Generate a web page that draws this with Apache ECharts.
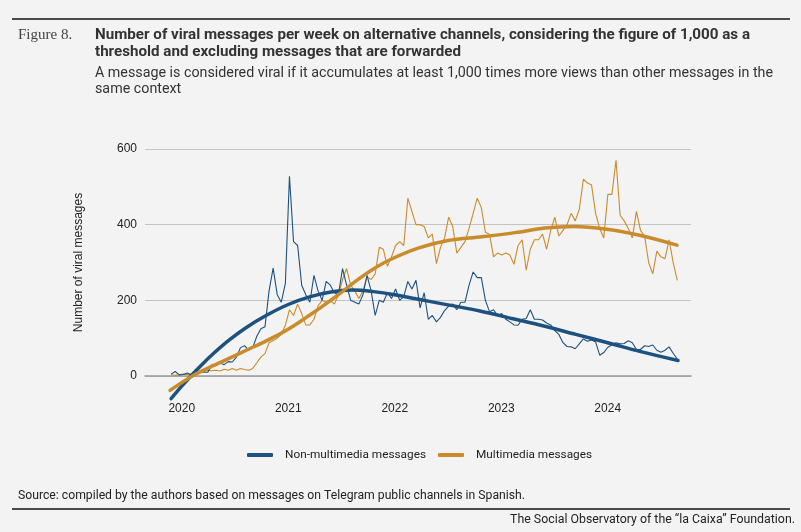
<!DOCTYPE html>
<html>
<head>
<meta charset="utf-8">
<script src="https://cdn.jsdelivr.net/npm/echarts@6/dist/echarts.min.js"></script>
<style>
html,body{margin:0;padding:0;background:#f3f3f3;}
#chart{width:801px;height:532px;}
</style>
</head>
<body>
<div id="chart"></div>
<script>
// fortnightly samples, x in fractional years
var weekStart = 2019.9;
var weekStep = 14 / 365.25;

var nonMultimedia = [
  5, 12, 3, 4, 8, 2, 5, 12, 10, 10,
  30, 28, 35, 30, 38, 37, 50, 75, 80, 68,
  75, 105, 125, 130, 225, 285, 215, 195, 245, 528,
  355, 345, 240, 215, 195, 266, 225, 200, 250, 240,
  220, 215, 284, 240, 200, 195, 190, 215, 266, 225,
  160, 200, 195, 220, 205, 230, 200, 210, 250, 230,
  253, 180, 220, 150, 160, 143, 155, 173, 185, 190,
  175, 195, 195, 240, 275, 260, 260, 200, 170, 175,
  160, 165, 150, 143, 135, 134, 150, 152, 175, 150,
  150, 148, 140, 135, 120, 110, 88, 78, 77, 72,
  85, 98, 92, 95, 90, 55, 62, 76, 82, 88,
  85, 86, 93, 88, 70, 70, 80, 78, 82, 68,
  63, 68, 77, 60, 45
];
var multimedia = [
  3, 2, 3, 5, 4, 6, 5, 8, 12, 15,
  14, 15, 13, 18, 15, 20, 15, 20, 17, 15,
  20, 35, 50, 59, 88, 94, 100, 110, 135, 175,
  160, 190, 165, 135, 135, 150, 185, 200, 195, 200,
  190, 215, 255, 284, 240, 225, 205, 225, 262, 255,
  270, 340, 335, 290, 315, 345, 355, 345, 470, 435,
  400, 400, 395, 365, 375, 297, 340, 365, 420, 395,
  325, 340, 355, 390, 430, 470, 445, 380, 375, 315,
  325, 320, 325, 320, 295, 345, 360, 280, 335, 360,
  360, 375, 335, 385, 420, 370, 385, 400, 430, 410,
  440, 520, 510, 505, 430, 390, 365, 480, 480, 570,
  425, 410, 390, 365, 435, 385, 370, 300, 270, 330,
  315, 310, 360, 300, 253
];

var trendNonYears = [2019.9, 2020.0, 2020.1, 2020.2, 2020.3, 2020.45, 2020.6, 2020.8, 2021.0, 2021.2, 2021.4, 2021.6, 2021.8, 2022.0, 2022.2, 2022.5, 2022.8, 2023.1, 2023.4, 2023.7, 2024.0, 2024.3, 2024.66];
var trendNonValues = [-60, -27, 4, 33, 60, 96, 127, 161, 189, 209, 222, 227, 223, 215, 204, 188, 172, 152, 132, 110, 88, 65, 41];
var trendMultiYears = [2019.89, 2020.1, 2020.3, 2020.47, 2020.62, 2020.78, 2020.94, 2021.06, 2021.17, 2021.33, 2021.49, 2021.64, 2021.8, 2021.96, 2022.22, 2022.5, 2022.82, 2023.13, 2023.41, 2023.68, 2023.99, 2024.3, 2024.65];
var trendMultiValues = [-38, 0, 28, 50, 70, 91, 114, 134, 155, 186, 219, 252, 283, 308, 338, 358, 368, 379, 391, 395, 388, 372, 346];

var yearTicks = [2020, 2021, 2022, 2023, 2024];

var BLUE = '#1c5180';
var ORANGE = '#c98b2c';

function weekly(vals) {
  return vals.map(function (v, i) { return [weekStart + i * weekStep, v]; });
}
function pairs(xs, ys) {
  return xs.map(function (x, i) { return [x, ys[i]]; });
}

// squeeze text horizontally to the width it has in the original
var mctx = document.createElement('canvas').getContext('2d');
function squeeze(text, font, w) {
  mctx.font = font;
  return w / mctx.measureText(text).width;
}

var titleFont = 'bold 14px Roboto';
var subFont = '14px Roboto';
var smallFont = '12px Roboto';
var t1 = 'Number of viral messages per week on alternative channels, considering the figure of 1,000 as a';
var t2 = 'threshold and excluding messages that are forwarded';
var s1 = 'A message is considered viral if it accumulates at least 1,000 times more views than other messages in the';
var s2 = 'same context';
var src = 'Source: compiled by the authors based on messages on Telegram public channels in Spanish.';
var foot = 'The Social Observatory of the \u201cla Caixa\u201d Foundation.';
var kT = squeeze(t1, titleFont, 655);
var kS = squeeze(s1, subFont, 678);
var kSrc = squeeze(src, smallFont, 507);
var kFoot = squeeze(foot, smallFont, 285);

var chart = echarts.init(document.getElementById('chart'));
chart.setOption({
  backgroundColor: '#f3f3f3',
  animation: false,
  grid: { left: 145, right: 110, top: 149, bottom: 156 },
  graphic: [
    { type: 'line', shape: { x1: 12, y1: 19, x2: 790, y2: 19 }, style: { stroke: '#4a4a4a', lineWidth: 2 } },
    { type: 'text', x: 18, y: 35, style: { text: 'Figure 8.', font: '15px "Liberation Serif"', fill: '#444', verticalAlign: 'middle' } },
    { type: 'text', x: 95, y: 35, scaleX: kT, style: { text: t1, font: titleFont, fill: '#333', verticalAlign: 'middle' } },
    { type: 'text', x: 95, y: 52, scaleX: kT, style: { text: t2, font: titleFont, fill: '#333', verticalAlign: 'middle' } },
    { type: 'text', x: 95, y: 73, scaleX: kS, style: { text: s1, font: subFont, fill: '#333', verticalAlign: 'middle' } },
    { type: 'text', x: 95, y: 89, scaleX: kS, style: { text: s2, font: subFont, fill: '#333', verticalAlign: 'middle' } },
    { type: 'text', x: 18, y: 496, scaleX: kSrc, style: { text: src, font: smallFont, fill: '#222', verticalAlign: 'middle' } },
    { type: 'line', shape: { x1: 12, y1: 509, x2: 790, y2: 509 }, style: { stroke: '#4a4a4a', lineWidth: 2 } },
    { type: 'text', x: 795, y: 520, scaleX: kFoot, style: { text: foot, font: smallFont, fill: '#222', align: 'right', verticalAlign: 'middle' } }
  ],
  legend: {
    data: ['Non-multimedia messages', 'Multimedia messages'],
    left: 242,
    top: 444,
    icon: 'roundRect',
    itemWidth: 26,
    itemHeight: 4,
    itemGap: 12,
    textStyle: { fontFamily: 'Roboto', fontSize: 11.8, color: '#222', padding: [0, 0, 0, 7] }
  },
  xAxis: {
    type: 'value',
    min: 2019.655,
    max: 2024.782,
    axisLine: { show: true, lineStyle: { color: '#9a9a9a', width: 1.5 } },
    axisTick: { show: false },
    splitLine: { show: false },
    axisLabel: {
      customValues: yearTicks,
      formatter: function (v) { return String(Math.round(v)); },
      margin: 27,
      fontFamily: 'Liberation Sans',
      fontSize: 12,
      color: '#222'
    }
  },
  yAxis: {
    type: 'value',
    min: 0,
    max: 600,
    interval: 200,
    name: 'Number of viral messages',
    nameLocation: 'middle',
    nameGap: 60,
    nameTextStyle: { fontFamily: 'Liberation Sans', fontSize: 12, color: '#222' },
    axisLine: { show: false },
    axisTick: { show: false },
    splitLine: { lineStyle: { color: '#c4c4c4', width: 1 } },
    axisLabel: { margin: 8, fontFamily: 'Liberation Sans', fontSize: 12, color: '#222' }
  },
  series: [
    {
      name: 'Multimedia weekly', type: 'line', data: weekly(multimedia),
      symbol: 'none', lineStyle: { width: 1.1, color: ORANGE }, itemStyle: { color: ORANGE }, z: 2
    },
    {
      name: 'Non-multimedia weekly', type: 'line', data: weekly(nonMultimedia),
      symbol: 'none', lineStyle: { width: 1.1, color: BLUE }, itemStyle: { color: BLUE }, z: 3
    },
    {
      name: 'Non-multimedia messages', type: 'line', data: pairs(trendNonYears, trendNonValues),
      symbol: 'none', smooth: 0.35, clip: false, lineStyle: { width: 3.5, color: BLUE, cap: 'round' },
      itemStyle: { color: BLUE }, z: 4
    },
    {
      name: 'Multimedia messages', type: 'line', data: pairs(trendMultiYears, trendMultiValues),
      symbol: 'none', smooth: 0.35, clip: false, lineStyle: { width: 3.5, color: ORANGE, cap: 'round' },
      itemStyle: { color: ORANGE }, z: 5
    }
  ]
});
</script>
</body>
</html>
